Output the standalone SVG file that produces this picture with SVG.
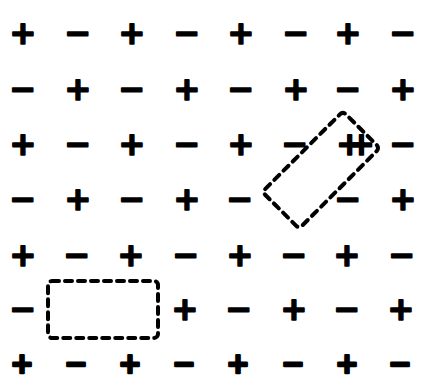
<svg xmlns="http://www.w3.org/2000/svg" width="424" height="380" viewBox="0 0 424 380">
<style>
text{font-family:"DejaVu Sans","Liberation Sans",sans-serif;font-weight:bold;font-size:32px;text-anchor:middle;fill:#000;stroke:#000;stroke-width:1.6;stroke-linejoin:round}
#row7 text{font-size:28px;stroke-width:2.4}
.box{fill:none;stroke:#000;stroke-width:4;stroke-linecap:round;stroke-dasharray:7 6}
</style>
<rect width="424" height="380" fill="#fff"/>
<g id="row1" transform="translate(0,44)">
<text x="23">+</text><text x="78">−</text><text x="132">+</text><text x="187">−</text><text x="241">+</text><text x="296">−</text><text x="348">+</text><text x="403">−</text>
</g>
<g id="row2" transform="translate(0,100)">
<text x="23">−</text><text x="78">+</text><text x="132">−</text><text x="187">+</text><text x="241">−</text><text x="296">+</text><text x="348">−</text><text x="403">+</text>
</g>
<g id="row3" transform="translate(0,155)">
<text x="23">+</text><text x="78">−</text><text x="132">+</text><text x="187">−</text><text x="241">+</text><text x="295">−</text><text x="348" letter-spacing="-15">++</text><text x="403">−</text>
</g>
<g id="row4" transform="translate(0,210)">
<text x="23">−</text><text x="78">+</text><text x="132">−</text><text x="187">+</text><text x="240">−</text><text x="348">−</text><text x="403">+</text>
</g>
<g id="row5" transform="translate(0,266)">
<text x="23">+</text><text x="77">−</text><text x="131">+</text><text x="186">−</text><text x="240">+</text><text x="294">−</text><text x="347">+</text><text x="402">−</text>
</g>
<g id="row6" transform="translate(0,320)">
<text x="23">−</text><text x="185">+</text><text x="239">−</text><text x="294">+</text><text x="347">−</text><text x="401">+</text>
</g>
<g id="row7" transform="translate(0,373)">
<text x="22">+</text><text x="76">−</text><text x="130">+</text><text x="184">−</text><text x="238">+</text><text x="293">−</text><text x="347">+</text><text x="400">−</text>
</g>
<g id="regions">
<rect id="region-a" class="box" x="48" y="281" width="110" height="57" rx="4"/>
<rect id="region-b" class="box" x="-57" y="-26" width="114" height="52" rx="4" transform="translate(321,170) rotate(-45)"/>
</g>
</svg>
